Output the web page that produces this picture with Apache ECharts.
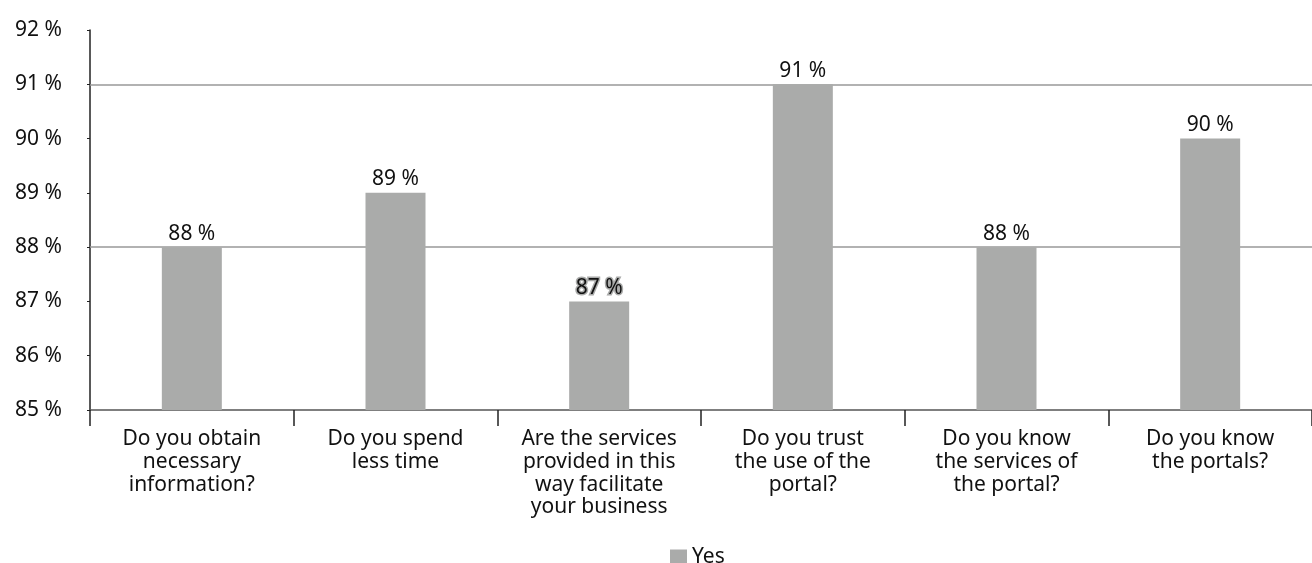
<!DOCTYPE html>
<html><head><meta charset="utf-8">
<script src="https://cdn.jsdelivr.net/npm/echarts@6/dist/echarts.min.js"></script>
<style>html,body{margin:0;padding:0;background:#fff}#c{width:1312px;height:563px}</style>
</head><body><div id="c"></div>
<script>
const categories = [
  "Do you obtain\nnecessary\ninformation?",
  "Do you spend\nless time",
  "Are the services\nprovided in this\nway facilitate\nyour business",
  "Do you trust\nthe use of the\nportal?",
  "Do you know\nthe services of\nthe portal?",
  "Do you know\nthe portals?"
];
const yesValues = [88, 89, 87, 91, 88, 90];
const gridValues = [88, 91];
const seriesName = "Yes";

const font = "Noto Sans";
const chart = echarts.init(document.getElementById('c'));
chart.setOption({
  animation: false,
  textStyle: { fontFamily: font },
  grid: { left: 90, right: 0, top: 30, bottom: 153 },
  legend: {
    top: 542, left: 665,
    itemWidth: 17, itemHeight: 16, itemGap: 5,
    icon: 'rect',
    textStyle: { fontFamily: font, fontSize: 21, color: '#111', padding: [0, 0, 0, 0] },
    data: [seriesName]
  },
  xAxis: {
    type: 'category', data: categories,
    axisLine: { lineStyle: { color: '#555', width: 1.5 } },
    axisTick: { show: true, length: 16, lineStyle: { color: '#222', width: 1.5 } },
    axisLabel: { fontFamily: font, fontSize: 21, color: '#111', lineHeight: 22.7, margin: 18, interval: 0 }
  },
  yAxis: {
    type: 'value', min: 85, max: 92, interval: 1,
    axisLine: { show: true, lineStyle: { color: '#222', width: 1.5 } },
    axisTick: { show: true, length: 3, lineStyle: { color: '#222' } },
    splitLine: { show: false },
    axisLabel: { fontFamily: font, fontSize: 21, color: '#111', margin: 28, formatter: v => v + ' %' }
  },
  series: [{
    name: seriesName, type: 'bar', data: yesValues.map((v, i) => i === 2 ? {
      value: v,
      label: { textBorderColor: '#a9aaa9', textBorderWidth: 3 }
    } : v),
    barWidth: 60,
    itemStyle: { color: '#aaabaa' },
    label: { show: true, position: 'top', distance: 3, fontFamily: font, fontSize: 21, color: '#111', formatter: p => p.value + ' %' },
    markLine: {
      silent: true, symbol: ['none', 'none'], z: 1,
      label: { show: false },
      lineStyle: { color: '#999', type: 'solid', width: 1.5 },
      data: gridValues.map(v => ({ yAxis: v }))
    }
  }]
});
</script></body></html>
